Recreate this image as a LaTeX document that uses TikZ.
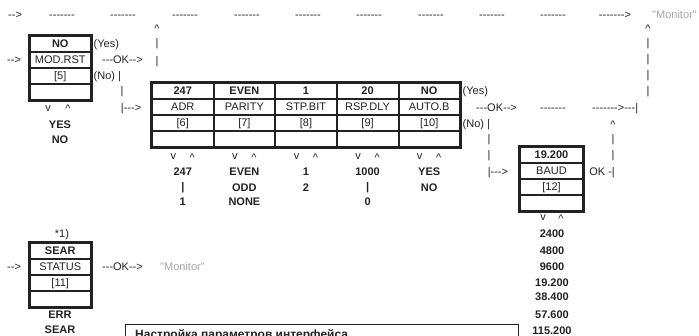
\documentclass[tikz,border=0pt]{standalone}
\usepackage{fontspec}
\setmainfont{Liberation Sans}[Ligatures=TeXOff]
\definecolor{ink}{HTML}{222222}
\definecolor{mon}{HTML}{A6A6A6}
\newcommand{\fsz}{\fontsize{11}{13}\selectfont}
\begin{document}
\begin{tikzpicture}[x=1pt,y=-1pt,
  every node/.style={inner sep=0pt, text=ink, font=\fsz},
  tb/.style={anchor=base},
  tl/.style={anchor=base west},
  tr/.style={anchor=base east},
  bf/.style={font=\fsz\bfseries},
  montext/.style={text=mon},
  cell/.style={minimum width=61.6pt, minimum height=16pt, text height=8pt, text depth=0pt, anchor=center},
  vcell/.style={cell, font=\fsz\bfseries},
  outer/.style={draw=ink, line width=3pt},
  inner/.style={draw=ink, line width=2pt},
]
\clip (0,0) rectangle (699,336);

% ---------- top row ----------
\node[tl] (tin) at (8,18.3) {-->};
\foreach \x [count=\k] in {62,123,185,247,308,369,431,492,553}
  \node[tb] (top\k) at (\x,18.3) {-------};
\node[tb] (topend) at (615,18.3) {------->};
\node[tl, montext] (mon1) at (652,19) {"Monitor"};

% left riser
\node[tb] (lcar) at (157,32.7) {\textasciicircum};
\node[tb] (lbar1) at (157,47) {|};
\node[tb] (lbar2) at (157,65) {|};

% right riser
\node[tb] (rcar) at (648,32.7) {\textasciicircum};
\foreach \y [count=\k] in {47,63,79,95}
  \node[tb] (rbar\k) at (648,\y) {|};

% ---------- MOD.RST box ----------
\node[vcell, minimum width=61.5pt] (mv) at (60.25,44) {NO};
\node[cell, minimum width=61.5pt] (mn) at (60.25,60) {MOD.RST};
\node[cell, minimum width=61.5pt] (mc) at (60.25,76) {[5]};
\node[cell, minimum width=61.5pt] (me) at (60.25,92) {};
\draw[inner] (mv.south west) -- (mv.south east);
\draw[inner] (mn.south west) -- (mn.south east);
\draw[inner] (mc.south west) -- (mc.south east);
\draw[outer] (mv.north west) rectangle (me.south east);

\node[tl] (myes) at (93.5,48) {(Yes)};
\node[tl] (min) at (7,63.3) {-->};
\node[tl] (mok) at (102,63.7) {---OK-->};
\node[tl] (mno) at (93.5,80) {(No) |};
\node[tb] (mbar) at (122,95) {|};
\node[tl] (mto) at (120.7,111.5) {|--->};
\node[tb] (mdown) at (48,111.3) {v};
\node[tb] (mup) at (68,112.7) {\textasciicircum};
\node[tb, bf] (mo1) at (60,129) {YES};
\node[tb, bf] (mo2) at (60,144) {NO};

% ---------- main parameter table ----------
\foreach \i/\v/\n/\c in {1/247/ADR/6, 2/EVEN/PARITY/7, 3/1/STP.BIT/8, 4/20/RSP.DLY/9, 5/NO/AUTO.B/10} {
  \pgfmathsetmacro\cx{152+61.6*(\i-0.5)}
  \node[vcell] (p\i-v) at (\cx,91) {\v};
  \node[cell] (p\i-n) at (\cx,107) {\n};
  \node[cell] (p\i-c) at (\cx,123) {[\c]};
  \node[cell] (p\i-e) at (\cx,139) {};
  \node[tb] (p\i-dn) at (\cx-9.5,160) {v};
  \node[tb] (p\i-up) at (\cx+9.5,161.7) {\textasciicircum};
}
\draw[inner] (p1-v.south west) -- (p5-v.south east);
\draw[inner] (p1-n.south west) -- (p5-n.south east);
\draw[inner] (p1-c.south west) -- (p5-c.south east);
\foreach \i in {1,2,3,4}
  \draw[inner] (p\i-v.north east) -- (p\i-e.south east);
\draw[outer] (p1-v.north west) rectangle (p5-e.south east);

% option lists under the table
\node[tb, bf] (o11) at (182.8,176) {247};
\node[tb, bf] (o12) at (182.8,191) {|};
\node[tb, bf] (o13) at (182.8,206) {1};
\node[tb, bf] (o21) at (244.4,176) {EVEN};
\node[tb, bf] (o22) at (244.4,192) {ODD};
\node[tb, bf] (o23) at (244.4,206) {NONE};
\node[tb, bf] (o31) at (306,176) {1};
\node[tb, bf] (o32) at (306,192) {2};
\node[tb, bf] (o41) at (367.6,176) {1000};
\node[tb, bf] (o42) at (367.6,191) {|};
\node[tb, bf] (o43) at (367.6,206) {0};
\node[tb, bf] (o51) at (429.2,176) {YES};
\node[tb, bf] (o52) at (429.2,192) {NO};

% right of table
\node[tl] (pyes) at (462.5,95) {(Yes)};
\node[tl] (pok) at (476,111.7) {---OK-->};
\node[tl] (pno) at (462.5,128) {(No) |};
\node[tb] (pdash) at (553,111.3) {-------};
\node[tl] (pret) at (592,111.5) {------->---|};
\node[tb] (bcar) at (613,128.5) {\textasciicircum};
\node[tb] (bbar1) at (613,143) {|};
\node[tb] (bbar2) at (613,159) {|};
\node[tr] (bok) at (615,176) {OK -|};
\node[tb] (nbar1) at (489,143) {|};
\node[tb] (nbar2) at (489,159) {|};
\node[tl] (nto) at (487.6,175.5) {|--->};

% ---------- BAUD box ----------
\node[vcell, minimum width=63pt] (bv) at (551.5,155) {19.200};
\node[cell, minimum width=63pt] (bn) at (551.5,171) {BAUD};
\node[cell, minimum width=63pt] (bc) at (551.5,187) {[12]};
\node[cell, minimum width=63pt] (be) at (551.5,203) {};
\draw[inner] (bv.south west) -- (bv.south east);
\draw[inner] (bn.south west) -- (bn.south east);
\draw[inner] (bc.south west) -- (bc.south east);
\draw[outer] (bv.north west) rectangle (be.south east);
\node[tb] (bdown) at (543,221) {v};
\node[tb] (bup) at (561,222.5) {\textasciicircum};
\foreach \t/\y [count=\k] in {2400/238, 4800/255, 9600/271, 19.200/287, 38.400/301, 57.600/319, 115.200/335}
  \node[tb, bf] (baud\k) at (552,\y) {\t};

% ---------- STATUS box ----------
\node[tb] (note) at (62,238) {*1)};
\node[vcell, minimum width=61.5pt] (sv) at (60.25,251) {SEAR};
\node[cell, minimum width=61.5pt] (sn) at (60.25,267) {STATUS};
\node[cell, minimum width=61.5pt] (sc) at (60.25,283) {[11]};
\node[cell, minimum width=61.5pt] (se) at (60.25,299) {};
\draw[inner] (sv.south west) -- (sv.south east);
\draw[inner] (sn.south west) -- (sn.south east);
\draw[inner] (sc.south west) -- (sc.south east);
\draw[outer] (sv.north west) rectangle (se.south east);
\node[tl] (sin) at (7,270.3) {-->};
\node[tl] (sok) at (102,270.7) {---OK-->};
\node[tl, montext] (mon2) at (160,271) {"Monitor"};
\node[tb, bf] (so1) at (60,319) {ERR};
\node[tb, bf] (so2) at (60,334) {SEAR};

% ---------- bottom caption box (cut by the lower edge, as in the reference) ----------
\node[anchor=base west, font=\fontsize{12}{14}\selectfont\bfseries] (cap) at (135,338.5) {Настройка параметров интерфейса};
\draw[draw=ink, line width=1pt] (125,325) rectangle (518,360);
\end{tikzpicture}
\end{document}
